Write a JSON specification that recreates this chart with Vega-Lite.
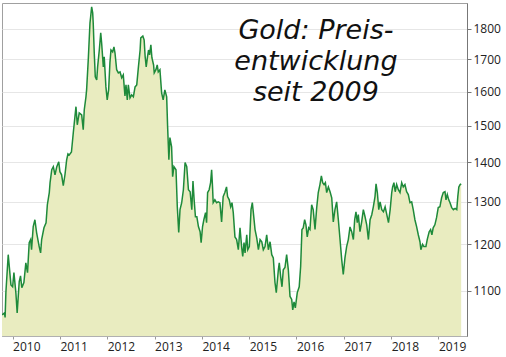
{
  "$schema": "https://vega.github.io/schema/vega-lite/v6.json",
  "width": 465,
  "height": 333,
  "autosize": {"type": "none"},
  "padding": {"left": 2, "top": 3, "right": 39, "bottom": 21},
  "background": "white",
  "config": {
    "view": {"stroke": "#a0a0a0", "strokeWidth": 1},
    "axis": {"labelFont": "Open Sans", "labelFontSize": 12, "labelColor": "#222222", "title": null}
  },
  "layer": [
    {
      "data": {"values": [
    {"d":"2009-10-11","p":1051},{"d":"2009-10-30","p":1055},{"d":"2009-11-04","p":1046},{"d":"2009-11-10","p":1096},{"d":"2009-11-28","p":1177},{"d":"2009-12-19","p":1112},
    {"d":"2010-01-01","p":1108},{"d":"2010-01-11","p":1138},{"d":"2010-01-26","p":1096},{"d":"2010-02-05","p":1055},{"d":"2010-02-21","p":1119},{"d":"2010-03-03","p":1131},{"d":"2010-03-13","p":1106},{"d":"2010-03-29","p":1117},{"d":"2010-04-13","p":1159},{"d":"2010-04-26","p":1138},{"d":"2010-05-09","p":1204},{"d":"2010-05-20","p":1211},{"d":"2010-05-27","p":1188},{"d":"2010-06-09","p":1241},{"d":"2010-06-22","p":1257},{"d":"2010-07-05","p":1227},{"d":"2010-07-25","p":1195},{"d":"2010-08-05","p":1181},{"d":"2010-08-13","p":1211},{"d":"2010-08-31","p":1238},{"d":"2010-09-16","p":1250},{"d":"2010-09-26","p":1293},{"d":"2010-10-11","p":1323},{"d":"2010-10-17","p":1348},{"d":"2010-10-30","p":1381},{"d":"2010-11-11","p":1389},{"d":"2010-11-24","p":1368},{"d":"2010-12-08","p":1389},{"d":"2010-12-23","p":1402},
    {"d":"2011-01-01","p":1376},{"d":"2011-01-14","p":1368},{"d":"2011-01-27","p":1340},{"d":"2011-02-09","p":1368},{"d":"2011-02-22","p":1407},{"d":"2011-03-04","p":1423},{"d":"2011-03-14","p":1420},{"d":"2011-03-31","p":1428},{"d":"2011-04-14","p":1480},{"d":"2011-04-27","p":1526},{"d":"2011-05-05","p":1555},{"d":"2011-05-15","p":1503},{"d":"2011-05-30","p":1537},{"d":"2011-06-18","p":1531},{"d":"2011-06-30","p":1489},{"d":"2011-07-08","p":1546},{"d":"2011-07-21","p":1584},{"d":"2011-07-26","p":1605},{"d":"2011-08-08","p":1700},{"d":"2011-08-21","p":1820},{"d":"2011-08-26","p":1841},{"d":"2011-09-03","p":1876},{"d":"2011-09-11","p":1855},{"d":"2011-09-15","p":1820},{"d":"2011-09-23","p":1721},{"d":"2011-10-01","p":1645},{"d":"2011-10-12","p":1635},{"d":"2011-10-19","p":1676},{"d":"2011-11-01","p":1730},{"d":"2011-11-12","p":1787},{"d":"2011-11-19","p":1753},{"d":"2011-12-02","p":1676},{"d":"2011-12-09","p":1708},{"d":"2011-12-22","p":1614},
    {"d":"2012-01-01","p":1575},{"d":"2012-01-12","p":1605},{"d":"2012-01-22","p":1689},{"d":"2012-01-30","p":1730},{"d":"2012-02-12","p":1724},{"d":"2012-02-22","p":1740},{"d":"2012-03-01","p":1721},{"d":"2012-03-14","p":1667},{"d":"2012-03-27","p":1657},{"d":"2012-04-09","p":1660},{"d":"2012-04-22","p":1642},{"d":"2012-05-04","p":1651},{"d":"2012-05-17","p":1587},{"d":"2012-05-25","p":1620},{"d":"2012-06-04","p":1575},{"d":"2012-06-12","p":1620},{"d":"2012-06-25","p":1581},{"d":"2012-07-08","p":1590},{"d":"2012-07-21","p":1584},{"d":"2012-08-03","p":1614},{"d":"2012-08-16","p":1620},{"d":"2012-08-29","p":1676},{"d":"2012-09-11","p":1730},{"d":"2012-09-16","p":1770},{"d":"2012-10-02","p":1776},{"d":"2012-10-12","p":1763},{"d":"2012-10-20","p":1708},{"d":"2012-10-28","p":1676},{"d":"2012-11-07","p":1708},{"d":"2012-11-15","p":1730},{"d":"2012-11-23","p":1714},{"d":"2012-12-03","p":1747},{"d":"2012-12-11","p":1705},{"d":"2012-12-24","p":1682},{"d":"2012-12-29","p":1657},
    {"d":"2013-01-11","p":1667},{"d":"2013-01-21","p":1682},{"d":"2013-01-29","p":1660},{"d":"2013-02-11","p":1667},{"d":"2013-02-24","p":1596},{"d":"2013-03-08","p":1575},{"d":"2013-03-21","p":1605},{"d":"2013-04-04","p":1584},{"d":"2013-04-11","p":1500},{"d":"2013-04-21","p":1407},{"d":"2013-04-29","p":1467},{"d":"2013-05-12","p":1442},{"d":"2013-05-20","p":1363},{"d":"2013-05-30","p":1389},{"d":"2013-06-15","p":1381},{"d":"2013-06-25","p":1288},{"d":"2013-07-06","p":1227},{"d":"2013-07-16","p":1281},{"d":"2013-07-29","p":1298},{"d":"2013-08-11","p":1330},{"d":"2013-08-24","p":1400},{"d":"2013-09-06","p":1389},{"d":"2013-09-19","p":1330},{"d":"2013-10-02","p":1325},{"d":"2013-10-15","p":1281},{"d":"2013-10-24","p":1352},{"d":"2013-11-02","p":1305},{"d":"2013-11-12","p":1264},{"d":"2013-11-23","p":1264},{"d":"2013-12-05","p":1241},{"d":"2013-12-18","p":1229},{"d":"2013-12-26","p":1204},
    {"d":"2014-01-06","p":1241},{"d":"2014-01-16","p":1257},{"d":"2014-01-29","p":1274},{"d":"2014-02-06","p":1250},{"d":"2014-02-14","p":1323},{"d":"2014-02-26","p":1330},{"d":"2014-03-09","p":1348},{"d":"2014-03-17","p":1381},{"d":"2014-03-24","p":1337},{"d":"2014-03-29","p":1298},{"d":"2014-04-11","p":1305},{"d":"2014-04-24","p":1298},{"d":"2014-05-07","p":1300},{"d":"2014-05-20","p":1298},{"d":"2014-06-02","p":1252},{"d":"2014-06-14","p":1313},{"d":"2014-06-27","p":1323},{"d":"2014-07-10","p":1337},{"d":"2014-07-18","p":1313},{"d":"2014-07-31","p":1305},{"d":"2014-08-11","p":1288},{"d":"2014-08-21","p":1298},{"d":"2014-08-31","p":1274},{"d":"2014-09-13","p":1217},{"d":"2014-09-26","p":1211},{"d":"2014-10-09","p":1188},{"d":"2014-10-22","p":1238},{"d":"2014-11-04","p":1193},{"d":"2014-11-12","p":1173},{"d":"2014-11-22","p":1204},{"d":"2014-11-30","p":1181},{"d":"2014-12-13","p":1222},{"d":"2014-12-21","p":1188},
    {"d":"2015-01-02","p":1195},{"d":"2015-01-15","p":1281},{"d":"2015-01-25","p":1298},{"d":"2015-02-02","p":1274},{"d":"2015-02-15","p":1234},{"d":"2015-02-28","p":1215},{"d":"2015-03-13","p":1188},{"d":"2015-03-26","p":1211},{"d":"2015-04-08","p":1206},{"d":"2015-04-20","p":1188},{"d":"2015-05-03","p":1195},{"d":"2015-05-16","p":1222},{"d":"2015-05-29","p":1188},{"d":"2015-06-11","p":1206},{"d":"2015-06-24","p":1177},{"d":"2015-07-06","p":1170},{"d":"2015-07-19","p":1117},{"d":"2015-07-29","p":1096},{"d":"2015-08-14","p":1144},{"d":"2015-08-21","p":1159},{"d":"2015-09-01","p":1129},{"d":"2015-09-11","p":1108},{"d":"2015-09-21","p":1144},{"d":"2015-10-04","p":1149},{"d":"2015-10-17","p":1177},{"d":"2015-10-30","p":1144},{"d":"2015-11-12","p":1088},{"d":"2015-11-25","p":1082},{"d":"2015-12-03","p":1061},{"d":"2015-12-13","p":1077},{"d":"2015-12-23","p":1065},
    {"d":"2016-01-07","p":1096},{"d":"2016-01-22","p":1108},{"d":"2016-02-02","p":1151},{"d":"2016-02-12","p":1234},{"d":"2016-02-22","p":1238},{"d":"2016-03-04","p":1257},{"d":"2016-03-14","p":1245},{"d":"2016-03-24","p":1217},{"d":"2016-04-04","p":1238},{"d":"2016-04-14","p":1234},{"d":"2016-04-27","p":1293},{"d":"2016-05-09","p":1281},{"d":"2016-05-23","p":1234},{"d":"2016-06-05","p":1286},{"d":"2016-06-17","p":1323},{"d":"2016-06-30","p":1343},{"d":"2016-07-11","p":1365},{"d":"2016-07-21","p":1348},{"d":"2016-08-01","p":1343},{"d":"2016-08-11","p":1348},{"d":"2016-08-21","p":1323},{"d":"2016-09-03","p":1337},{"d":"2016-09-16","p":1325},{"d":"2016-09-29","p":1310},{"d":"2016-10-11","p":1252},{"d":"2016-10-24","p":1281},{"d":"2016-11-06","p":1300},{"d":"2016-11-19","p":1257},{"d":"2016-12-02","p":1211},{"d":"2016-12-15","p":1166},{"d":"2016-12-27","p":1134},
    {"d":"2017-01-09","p":1170},{"d":"2017-01-22","p":1195},{"d":"2017-02-04","p":1211},{"d":"2017-02-17","p":1240},{"d":"2017-03-02","p":1229},{"d":"2017-03-15","p":1211},{"d":"2017-03-25","p":1257},{"d":"2017-04-04","p":1276},{"d":"2017-04-14","p":1250},{"d":"2017-04-22","p":1269},{"d":"2017-05-05","p":1229},{"d":"2017-05-18","p":1252},{"d":"2017-05-31","p":1281},{"d":"2017-06-13","p":1264},{"d":"2017-06-26","p":1245},{"d":"2017-07-09","p":1211},{"d":"2017-07-22","p":1257},{"d":"2017-08-04","p":1269},{"d":"2017-08-16","p":1288},{"d":"2017-08-29","p":1313},{"d":"2017-09-06","p":1345},{"d":"2017-09-16","p":1323},{"d":"2017-09-27","p":1281},{"d":"2017-10-07","p":1300},{"d":"2017-10-20","p":1281},{"d":"2017-11-02","p":1276},{"d":"2017-11-15","p":1288},{"d":"2017-11-28","p":1269},{"d":"2017-12-11","p":1250},{"d":"2017-12-24","p":1281},
    {"d":"2018-01-05","p":1323},{"d":"2018-01-12","p":1337},{"d":"2018-01-22","p":1348},{"d":"2018-02-01","p":1325},{"d":"2018-02-12","p":1343},{"d":"2018-02-25","p":1330},{"d":"2018-03-10","p":1323},{"d":"2018-03-23","p":1348},{"d":"2018-04-04","p":1337},{"d":"2018-04-17","p":1343},{"d":"2018-04-30","p":1325},{"d":"2018-05-13","p":1318},{"d":"2018-05-26","p":1298},{"d":"2018-06-08","p":1300},{"d":"2018-06-20","p":1281},{"d":"2018-07-03","p":1257},{"d":"2018-07-16","p":1241},{"d":"2018-07-29","p":1222},{"d":"2018-08-11","p":1206},{"d":"2018-08-18","p":1188},{"d":"2018-08-31","p":1200},{"d":"2018-09-10","p":1195},{"d":"2018-09-26","p":1195},{"d":"2018-10-06","p":1211},{"d":"2018-10-21","p":1229},{"d":"2018-11-01","p":1234},{"d":"2018-11-11","p":1222},{"d":"2018-11-21","p":1238},{"d":"2018-12-04","p":1245},{"d":"2018-12-17","p":1262},{"d":"2018-12-30","p":1286},
    {"d":"2019-01-12","p":1288},{"d":"2019-01-25","p":1310},{"d":"2019-02-07","p":1323},{"d":"2019-02-20","p":1325},{"d":"2019-02-28","p":1305},{"d":"2019-03-10","p":1318},{"d":"2019-03-21","p":1305},{"d":"2019-03-31","p":1298},{"d":"2019-04-13","p":1286},{"d":"2019-04-26","p":1281},{"d":"2019-05-09","p":1284},{"d":"2019-05-22","p":1281},{"d":"2019-05-30","p":1313},{"d":"2019-06-07","p":1337},{"d":"2019-06-17","p":1343},{"d":"2019-06-25","p":1345}
      ]},
      "mark": {"type": "area", "color": "#e9ecc0", "fillOpacity": 1, "clip": true, "line": {"color": "#1e8a3a", "strokeWidth": 1.5}},
      "encoding": {
        "x": {
          "field": "d", "type": "temporal",
          "scale": {"domain": ["2009-10-11", "2019-08-09"]},
          "axis": {"format": "%Y", "tickCount": {"interval": "year", "step": 1}, "labelAlign": "left", "labelPadding": 2, "tickSize": 3, "tickColor": "#999999", "domainColor": "#b0b0b0", "grid": false, "labelFlush": false}
        },
        "y": {
          "field": "p", "type": "quantitative",
          "scale": {"type": "log", "domain": [1010, 1890], "nice": false},
          "axis": {"orient": "right", "values": [1100, 1200, 1300, 1400, 1500, 1600, 1700, 1800], "format": "d", "grid": true, "gridColor": "#e6e6e6", "tickSize": 4, "tickColor": "#777777", "domainColor": "#777777", "labelPadding": 2}
        },
        "y2": {"datum": 1010}
      }
    },
    {
      "data": {"values": [{"label": "Gold"}]},
      "mark": {"type": "text", "text": ["Gold: Preis-", "entwicklung", "seit 2009"], "font": "DejaVu Sans", "fontStyle": "italic", "fontWeight": 200, "fontSize": 27, "lineHeight": 31, "align": "center", "baseline": "alphabetic", "color": "#111111"},
      "encoding": {
        "x": {"datum": {"year": 2016, "month": 5, "date": 30}, "type": "temporal"},
        "y": {"datum": 1765, "type": "quantitative"}
      }
    }
  ]
}
